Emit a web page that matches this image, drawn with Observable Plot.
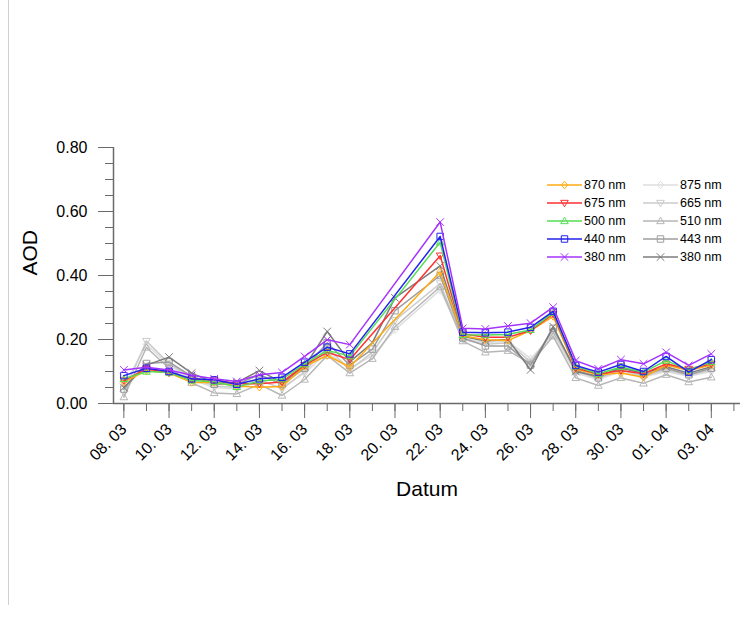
<!DOCTYPE html>
<html>
<head>
<meta charset="utf-8">
<script src="https://cdn.jsdelivr.net/npm/d3@7"></script>
<script src="https://cdn.jsdelivr.net/npm/@observablehq/plot@0.6"></script>
<style>
  html, body { margin: 0; padding: 0; background: #fff; overflow: hidden; }
  #wrap { position: relative; width: 742px; height: 619px; }
  #edge { position: absolute; left: 8px; top: 0; width: 1px; height: 605px; background: #d2d2d2; }
  #chart { position: absolute; left: 0; top: 0; }
</style>
</head>
<body>
<div id="wrap"><div id="edge"></div><div id="chart"></div></div>
<script>
// Measurement days of the sun photometer series (colour) and the reference series (grey)
const colourDays = ["2015-03-08","2015-03-09","2015-03-10","2015-03-11","2015-03-12","2015-03-13",
  "2015-03-14","2015-03-15","2015-03-16","2015-03-17","2015-03-18","2015-03-22","2015-03-23",
  "2015-03-24","2015-03-25","2015-03-26","2015-03-27","2015-03-28","2015-03-29","2015-03-30",
  "2015-03-31","2015-04-01","2015-04-02","2015-04-03"];
const greyDays = ["2015-03-08","2015-03-09","2015-03-10","2015-03-11","2015-03-12","2015-03-13",
  "2015-03-14","2015-03-15","2015-03-16","2015-03-17","2015-03-18","2015-03-19","2015-03-20",
  "2015-03-22","2015-03-23","2015-03-24","2015-03-25","2015-03-26","2015-03-27","2015-03-28",
  "2015-03-29","2015-03-30","2015-03-31","2015-04-01","2015-04-02","2015-04-03"];

// AOD per wavelength
const aod870 = [0.067,0.103,0.095,0.066,0.066,0.055,0.051,0.053,0.116,0.150,0.114,0.412,0.212,0.199,0.197,0.228,0.272,0.108,0.090,0.095,0.082,0.120,0.103,0.120];
const aod675 = [0.072,0.108,0.097,0.075,0.074,0.062,0.062,0.067,0.120,0.160,0.137,0.462,0.218,0.207,0.207,0.228,0.280,0.111,0.092,0.103,0.093,0.124,0.108,0.124];
const aod500 = [0.077,0.100,0.097,0.072,0.068,0.052,0.070,0.076,0.123,0.166,0.148,0.504,0.215,0.214,0.216,0.230,0.284,0.116,0.093,0.114,0.098,0.134,0.105,0.130];
const aod440 = [0.087,0.110,0.100,0.077,0.074,0.060,0.077,0.082,0.129,0.176,0.155,0.522,0.223,0.221,0.223,0.238,0.288,0.119,0.098,0.122,0.100,0.147,0.098,0.137];
const aod380 = [0.105,0.113,0.105,0.088,0.077,0.069,0.090,0.097,0.147,0.199,0.184,0.567,0.235,0.233,0.242,0.251,0.301,0.134,0.108,0.137,0.124,0.160,0.119,0.155];

const ref875 = [0.055,0.185,0.120,0.075,0.050,0.045,0.070,0.050,0.095,0.160,0.110,0.150,0.230,0.355,0.205,0.190,0.195,0.140,0.215,0.095,0.075,0.100,0.083,0.100,0.085,0.100];
const ref665 = [0.035,0.195,0.125,0.080,0.055,0.050,0.075,0.045,0.100,0.175,0.105,0.160,0.260,0.375,0.200,0.185,0.190,0.130,0.225,0.100,0.078,0.105,0.085,0.105,0.088,0.105];
const ref510 = [0.020,0.175,0.110,0.065,0.033,0.030,0.060,0.025,0.075,0.150,0.095,0.140,0.240,0.365,0.195,0.160,0.165,0.125,0.210,0.080,0.056,0.080,0.063,0.090,0.067,0.082];
const ref443 = [0.045,0.125,0.130,0.085,0.060,0.060,0.090,0.060,0.110,0.190,0.120,0.170,0.290,0.400,0.205,0.180,0.180,0.120,0.235,0.105,0.080,0.115,0.090,0.110,0.090,0.110];
const ref380 = [0.050,0.120,0.145,0.095,0.065,0.065,0.103,0.065,0.115,0.225,0.130,0.190,0.330,0.430,0.210,0.195,0.200,0.105,0.240,0.100,0.085,0.110,0.095,0.115,0.095,0.115];

// Axis ticks
const yMajor = [0, 0.2, 0.4, 0.6, 0.8];
const yMinor = d3.range(0, 0.8001, 0.05);
const xMajorLabels = ["2015-03-08","2015-03-10","2015-03-12","2015-03-14","2015-03-16","2015-03-18",
  "2015-03-20","2015-03-22","2015-03-24","2015-03-26","2015-03-28","2015-03-30","2015-04-01","2015-04-03"];

// open marker shapes, sized from the dot radius
const rOf = size => Math.sqrt(size / Math.PI);
const symDiamond = { draw(c, size) { const s = rOf(size); c.moveTo(0, -s); c.lineTo(s * 0.8, 0); c.lineTo(0, s); c.lineTo(-s * 0.8, 0); c.closePath(); } };
const symTriDown = { draw(c, size) { const s = rOf(size); c.moveTo(-s, -s * 0.7); c.lineTo(s, -s * 0.7); c.lineTo(0, s); c.closePath(); } };
const symTriUp   = { draw(c, size) { const s = rOf(size); c.moveTo(-s, s * 0.7); c.lineTo(s, s * 0.7); c.lineTo(0, -s); c.closePath(); } };
const symSquare  = { draw(c, size) { const s = rOf(size) * 0.85; c.rect(-s, -s, 2 * s, 2 * s); } };
const symTimes   = { draw(c, size) { const s = rOf(size); c.moveTo(-s, -s); c.lineTo(s, s); c.moveTo(s, -s); c.lineTo(-s, s); } };

const parse = d3.utcParse("%Y-%m-%d");
const series = [
  { label: "875 nm", days: greyDays, values: ref875, color: "#dedede", symbol: symDiamond, col: 1, row: 0 },
  { label: "665 nm", days: greyDays, values: ref665, color: "#cbcbcb", symbol: symTriDown, col: 1, row: 1 },
  { label: "510 nm", days: greyDays, values: ref510, color: "#b6b6b6", symbol: symTriUp,   col: 1, row: 2 },
  { label: "443 nm", days: greyDays, values: ref443, color: "#9e9e9e", symbol: symSquare,  col: 1, row: 3 },
  { label: "380 nm", days: greyDays, values: ref380, color: "#7c7c7c", symbol: symTimes,   col: 1, row: 4 },
  { label: "870 nm", days: colourDays, values: aod870, color: "#ffab12", symbol: symDiamond, col: 0, row: 0 },
  { label: "675 nm", days: colourDays, values: aod675, color: "#ff3131", symbol: symTriDown, col: 0, row: 1 },
  { label: "500 nm", days: colourDays, values: aod500, color: "#55dd55", symbol: symTriUp,   col: 0, row: 2 },
  { label: "440 nm", days: colourDays, values: aod440, color: "#2222ee", symbol: symSquare,  col: 0, row: 3 },
  { label: "380 nm", days: colourDays, values: aod380, color: "#a533ff", symbol: symTimes,   col: 0, row: 4 }
];

const seriesMarks = series.flatMap(s => {
  const rows = s.days.map((d, i) => ({ date: parse(d), aod: s.values[i] }));
  return [
    Plot.line(rows, { x: "date", y: "aod", stroke: s.color, strokeWidth: 1.5 }),
    Plot.dot(rows, { x: "date", y: "aod", stroke: s.color, fill: "none", strokeWidth: 1, r: 3.8, symbol: s.symbol })
  ];
});

const allDays = d3.utcDay.range(parse("2015-03-08"), parse("2015-04-05"));
const xStart = new Date(Date.UTC(2015, 2, 7, 13));
const xEnd = new Date(Date.UTC(2015, 3, 4, 7));
const axisColor = "#6a6a6a";
const fmt = d3.utcFormat("%d. %m");

const chart = Plot.plot({
  width: 742,
  height: 619,
  marginLeft: 113,
  marginRight: 2,
  marginTop: 147,
  marginBottom: 216,
  style: { fontFamily: "'Liberation Sans', Arial, Helvetica, sans-serif", background: "transparent", overflow: "visible" },
  x: { type: "utc", domain: [xStart, xEnd], label: null },
  y: { domain: [0, 0.8], label: null },
  marks: [
    Plot.axisY(yMinor, { tickSize: 8, tickFormat: () => "", stroke: axisColor, label: null }),
    Plot.axisY(yMajor, { tickSize: 15, tickPadding: 11, tickFormat: d3.format(".2f"), fontSize: 16, stroke: axisColor, fill: "black", label: null }),
    Plot.axisX(allDays, { tickSize: 8, tickFormat: () => "", stroke: axisColor, label: null }),
    Plot.axisX(xMajorLabels.map(parse), { tickSize: 15, tickPadding: 8, tickRotate: -45, tickFormat: fmt, fontSize: 16, stroke: axisColor, fill: "black", label: null }),
    Plot.ruleY([0], { stroke: axisColor, strokeWidth: 1.5 }),
    Plot.ruleX([xStart], { y1: 0, y2: 0.8, stroke: axisColor, strokeWidth: 1.5 }),
    ...seriesMarks,
    Plot.text(["AOD"], { frameAnchor: "left", dx: -83, rotate: -90, fontSize: 21, fill: "black" }),
    Plot.text(["Datum"], { frameAnchor: "bottom", dy: 92, fontSize: 21, fill: "black" })
  ]
});

// Legend: two columns (colour series, grey series) in the upper right of the plot
const svg = d3.select(chart);
const legend = svg.append("g")
  .attr("font-family", "'Liberation Sans', Arial, Helvetica, sans-serif")
  .attr("font-size", 12.5)
  .attr("text-anchor", "start");
const colX = [547, 643];
const rowY0 = 185, rowStep = 18;
for (const s of series) {
  const x0 = colX[s.col], y0 = rowY0 + s.row * rowStep;
  const g = legend.append("g").attr("transform", `translate(${x0},${y0})`);
  g.append("line").attr("x1", 0).attr("x2", 35).attr("y1", 0).attr("y2", 0)
    .attr("stroke", s.color).attr("stroke-width", 1.5);
  g.append("path").attr("transform", "translate(17.5,0)")
    .attr("d", d3.symbol(s.symbol, 3.8 * 3.8 * Math.PI)())
    .attr("fill", "none").attr("stroke", s.color).attr("stroke-width", 1);
  g.append("text").attr("x", 37).attr("y", 0).attr("dy", "0.35em")
    .attr("text-anchor", "start").attr("fill", "black").text(s.label);
}

document.getElementById("chart").appendChild(chart);
</script>
</body>
</html>
